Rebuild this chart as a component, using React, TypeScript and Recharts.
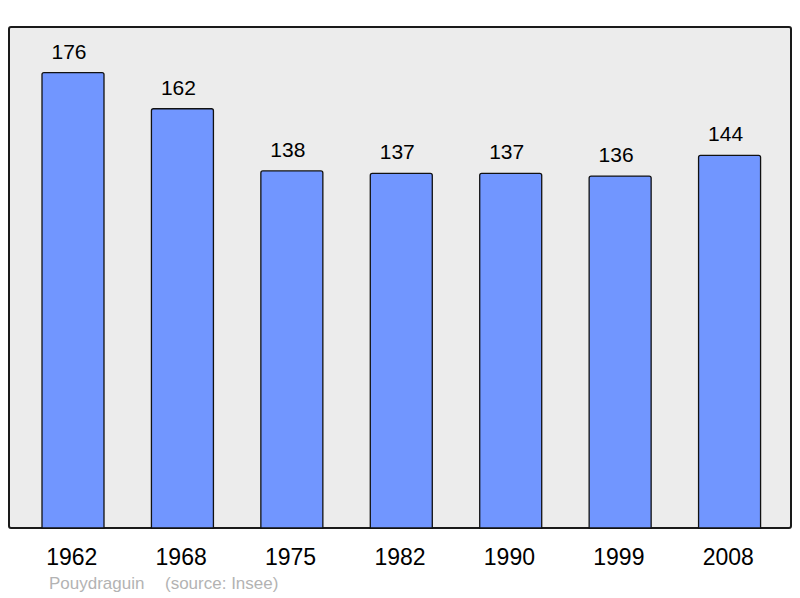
import React from "react";
import { BarChart, Bar, XAxis, YAxis, LabelList } from "recharts";

const years = ["1962", "1968", "1975", "1982", "1990", "1999", "2008"];
const population = [176, 162, 138, 137, 137, 136, 144];
const title = "Pouydraguin";
const source = "(source: Insee)";

const data = years.map((y, i) => ({ year: y, pop: population[i] }));

export default function App() {
  return (
    <div style={{ position: "absolute", left: 0, top: 0, width: 800, height: 598, fontFamily: "'Liberation Sans', Arial, sans-serif" }}>
      <div
        style={{
          position: "absolute",
          left: 8,
          top: 26,
          width: 784,
          height: 503,
          boxSizing: "border-box",
          border: "2px solid #1a1a1a",
          borderRadius: 3,
          background: "#ececec",
        }}
      />
      <div style={{ position: "absolute", left: 0, top: 0 }}>
        <BarChart
          width={800}
          height={598}
          data={data}
          margin={{ top: 27, right: 9, bottom: 40, left: 9 }}
        >
          <XAxis
            dataKey="year"
            height={30}
            axisLine={false}
            tickLine={false}
            tickSize={0}
            tickMargin={21}
            padding={{ left: 9, right: 7 }}
            interval={0}
            tick={{ fill: "#000", fontSize: 23, dx: -1, fontFamily: "'Liberation Sans', Arial, sans-serif" }}
          />
          <YAxis hide domain={[0, 193.6]} />
          <Bar
            dataKey="pop"
            fill="#7196ff"
            stroke="#111"
            strokeWidth={1.3}
            barSize={62}
            radius={[2, 2, 0, 0]}
            isAnimationActive={false}
          >
            <LabelList
              dataKey="pop"
              position="top"
              offset={14}
              dx={-4}
              fill="#000"
              fontSize={21}
              fontFamily="'Liberation Sans', Arial, sans-serif"
            />
          </Bar>
        </BarChart>
      </div>
      <div
        style={{
          position: "absolute",
          left: 49,
          top: 574,
          fontSize: 17,
          color: "#b3b3b3",
          whiteSpace: "pre",
          lineHeight: "20px",
        }}
      >
        {title}
      </div>
      <div
        style={{
          position: "absolute",
          left: 165,
          top: 574,
          fontSize: 17,
          color: "#b3b3b3",
          whiteSpace: "pre",
          lineHeight: "20px",
        }}
      >
        {source}
      </div>
    </div>
  );
}
